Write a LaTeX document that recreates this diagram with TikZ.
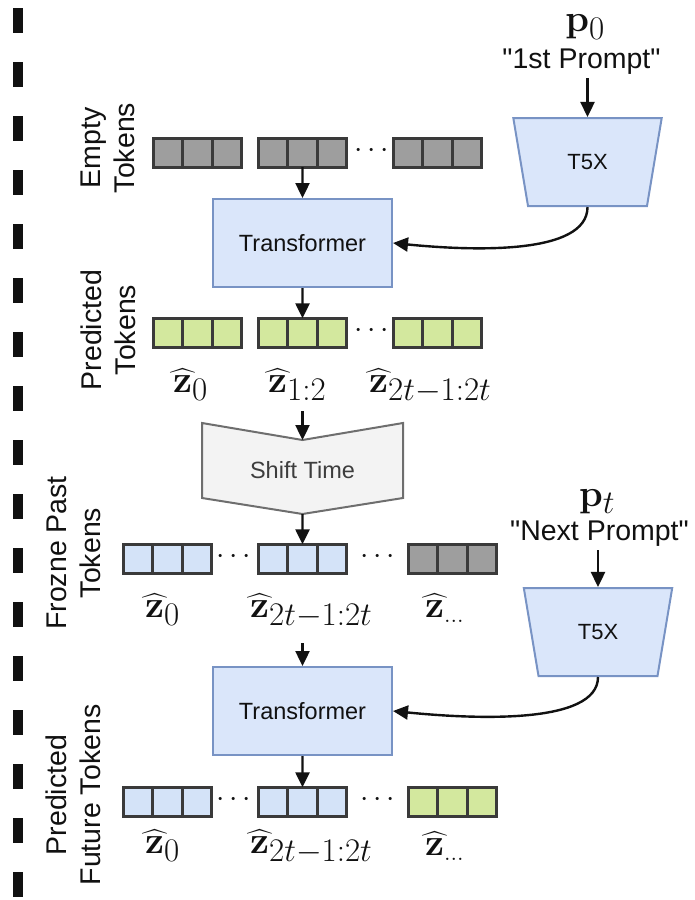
\RequirePackage{fix-cm}
\documentclass[tikz,border=0pt]{standalone}
\usepackage{amsmath}
\usepackage[no-math]{fontspec}
\setmainfont{Liberation Sans}
\usetikzlibrary{arrows.meta,shapes.geometric}

% large maths with fairly large subscripts
\DeclareMathSizes{38}{38}{33}{24}

\definecolor{ink}{HTML}{111111}
\definecolor{tokgrey}{HTML}{9E9E9E}
\definecolor{tokgreen}{HTML}{D3E89E}
\definecolor{tokblue}{HTML}{D4E3F8}
\definecolor{cellline}{HTML}{3A3A3A}
\definecolor{boxfill}{HTML}{DAE6FA}
\definecolor{boxline}{HTML}{7893C4}
\definecolor{shiftfill}{HTML}{F3F3F3}
\definecolor{shiftline}{HTML}{6E6E6E}
\definecolor{shifttext}{HTML}{3D3D3D}

% bold z under a hat that is wider than the letter
\newsavebox{\zbox}
\newcommand{\zhat}{\mathord{\sbox{\zbox}{$\mathbf{z}$}\rlap{\usebox{\zbox}}%
  \hbox to \wd\zbox{\hss\raisebox{4.5pt}{\fontsize{27}{30}\selectfont
  $\widehat{\hphantom{\mathbf{z}\mathbf{z}}}$}\hss}}}

% three token cells in a row: name, left x, top y, fill style
\newcommand{\tokgroup}[4]{%
  \foreach \k in {1,2,3}{%
    \node[cell,#4] (#1-\k) at ({#2+1.3+(\k-0.5)*29.47},{#3+15.75}) {};
  }%
}

\begin{document}
\begin{tikzpicture}[x=1pt,y=-1pt,
  cell/.style={draw=cellline, line width=2.6pt, minimum width=29.47pt,
    minimum height=28.9pt, inner sep=0pt, outer sep=0pt},
  emptytok/.style={fill=tokgrey},
  predtok/.style={fill=tokgreen},
  pasttok/.style={fill=tokblue},
  box/.style={draw=boxline, fill=boxfill, line width=2pt, minimum width=179pt,
    minimum height=88pt, inner sep=0pt, text=ink, font=\fontsize{23.5}{28}\selectfont},
  trap/.style={trapezium, trapezium left angle=108, trapezium right angle=108,
    trapezium stretches=true, draw=boxline, fill=boxfill, line width=2pt,
    minimum width=149pt, minimum height=88pt, inner sep=0pt, text=ink,
    font=\fontsize{22}{26}\selectfont},
  arr/.style={-{Triangle[width=14pt,length=15pt]}, line width=2.4pt, draw=ink},
  side/.style={rotate=90, align=center, text=ink, inner sep=0pt,
    font=\fontsize{28.5}{34}\selectfont},
  prompt/.style={anchor=base, text=ink, inner sep=4pt, font=\fontsize{28.5}{34}\selectfont},
  mathlab/.style={anchor=base, text=ink, inner sep=0pt, font=\fontsize{38}{42}\selectfont},
  zlab/.style={anchor=base west, text=ink, inner sep=0pt, font=\fontsize{38}{42}\selectfont},
  dots/.style={text=ink, inner sep=0pt, font=\fontsize{30}{34}\selectfont},
]
\useasboundingbox (0,0) rectangle (694,900);

% separator on the left
\draw[ink, line width=10pt, dash pattern=on 25pt off 29pt] (18,8) -- (18,900);

% row labels
\node[side] (labE) at (108,148) {Empty\\Tokens};
\node[side] (labP) at (108,330) {Predicted\\Tokens};
\node[side] (labF) at (74,553) {Frozne Past\\Tokens};
\node[side] (labN) at (73,795) {Predicted\\Future Tokens};

% empty tokens
\tokgroup{E1}{152}{137}{emptytok}
\tokgroup{E2}{257}{137}{emptytok}
\tokgroup{E3}{392}{137}{emptytok}
\node[dots] (dE) at (374,151) {$\cdots$};

% first prompt and encoder
\node[mathlab] (p0) at (585,31) {$\mathbf{p}_{0}$};
\node[prompt] (pr1) at (581.5,68) {\textquotedbl 1st Prompt\textquotedbl};
\node[trap] (Ta) at (587.5,162) {T5X};

% first transformer
\node[box] (T1) at (302.5,243) {Transformer};

% predicted tokens
\tokgroup{P1}{152}{317}{predtok}
\tokgroup{P2}{257}{317}{predtok}
\tokgroup{P3}{392}{317}{predtok}
\node[dots] (dP) at (374,331) {$\cdots$};
\node[zlab] (zP1) at (173,392) {$\zhat_{0}$};
\node[zlab] (zP2) at (268,392) {$\zhat_{1:2}$};
\node[zlab] (zP3) at (369,392) {$\zhat_{2t-1:2t}$};
\coordinate (zPout) at (302.5,411);

% shift time block
\draw[draw=shiftline, fill=shiftfill, line width=2pt]
  (202,423) -- (302.5,440) -- (403,423) -- (403,498) -- (302.5,514) -- (202,498) -- cycle;
\node[text=shifttext, font=\fontsize{23.5}{28}\selectfont] (ST) at (302.5,470) {Shift Time};
\coordinate (STin) at (302.5,440);
\coordinate (STout) at (302.5,514);

% frozen past tokens
\tokgroup{F1}{122}{543}{pasttok}
\tokgroup{F2}{257}{543}{pasttok}
\tokgroup{F3}{407}{543}{emptytok}
\node[dots] (dF1) at (236,557) {$\cdots$};
\node[dots] (dF2) at (380,557) {$\cdots$};
\node[zlab] (zF1) at (145,617) {$\zhat_{0}$};
\node[zlab] (zF2) at (250,617) {$\zhat_{2t-1:2t}$};
\node[zlab] (zF3) at (425,617) {$\zhat_{\scriptscriptstyle\ldots}$};
\coordinate (zFout) at (302.5,643);

% next prompt and encoder
\node[mathlab] (pt) at (597,506) {$\mathbf{p}_{t}$};
\node[prompt] (pr2) at (599.5,540) {\textquotedbl Next Prompt\textquotedbl};
\node[trap] (Tb) at (598,632) {T5X};

% second transformer
\node[box] (T2) at (302.5,711) {Transformer};

% predicted future tokens
\tokgroup{N1}{122}{786}{pasttok}
\tokgroup{N2}{257}{786}{pasttok}
\tokgroup{N3}{407}{786}{predtok}
\node[dots] (dN1) at (236,800) {$\cdots$};
\node[dots] (dN2) at (380,800) {$\cdots$};
\node[zlab] (zN1) at (145,853) {$\zhat_{0}$};
\node[zlab] (zN2) at (250,853) {$\zhat_{2t-1:2t}$};
\node[zlab] (zN3) at (425,855) {$\zhat_{\scriptscriptstyle\ldots}$};

% connectors
\draw[arr] (E2-2.south) -- (T1.north);
\draw[arr] (T1.south) -- (P2-2.north);
\draw[arr] (zPout) -- (STin);
\draw[arr] (STout) -- (F2-2.north);
\draw[arr] (zFout) -- (T2.north);
\draw[arr] (T2.south) -- (N2-2.north);
\draw[arr] (pr1.south -| Ta.north) -- (Ta.north);
\draw[arr] (pr2.south -| Tb.north) -- (Tb.north);
\draw[arr] (Ta.south) .. controls +(0,48) and +(80,8) .. (T1.east);
\draw[arr] (Tb.south) .. controls +(0,48) and +(80,8) .. (T2.east);
\end{tikzpicture}
\end{document}
